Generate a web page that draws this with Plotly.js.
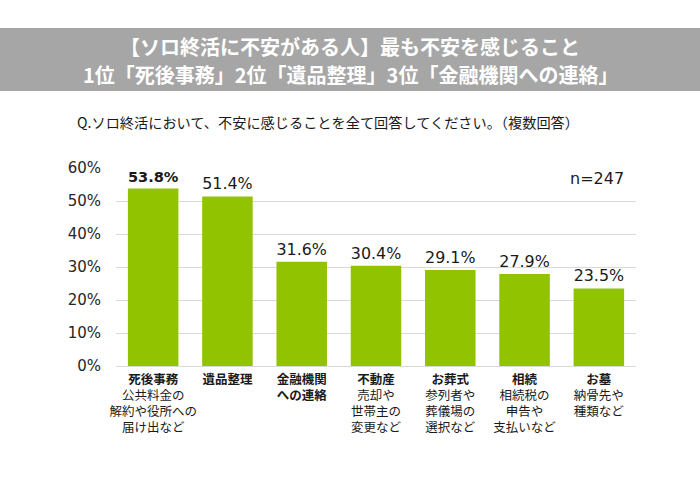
<!DOCTYPE html>
<html>
<head>
<meta charset="utf-8">
<script src="https://cdn.plot.ly/plotly-3.0.1.min.js"></script>
<style>html,body{margin:0;padding:0;background:#fff;}#chart{width:700px;height:495px;}</style>
</head>
<body>
<div id="chart"></div>
<script>
const categories = ['死後事務', '遺品整理', '金融機関への連絡', '不動産', 'お葬式', '相続', 'お墓'];
const tickLabels = [
  '<b>死後事務</b><br>公共料金の<br>解約や役所への<br>届け出など',
  '<b>遺品整理</b>',
  '<b>金融機関</b><br><b>への連絡</b>',
  '<b>不動産</b><br>売却や<br>世帯主の<br>変更など',
  '<b>お葬式</b><br>参列者や<br>葬儀場の<br>選択など',
  '<b>相続</b><br>相続税の<br>申告や<br>支払いなど',
  '<b>お墓</b><br>納骨先や<br>種類など'
];
const values = [53.8, 51.4, 31.6, 30.4, 29.1, 27.9, 23.5];
const yTicks = [0, 10, 20, 30, 40, 50, 60];
const titleLines = ['【ソロ終活に不安がある人】最も不安を感じること', '1位「死後事務」2位「遺品整理」3位「金融機関への連絡」'];
const questionText = 'Q.ソロ終活において、不安に感じることを全て回答してください。（複数回答）';
const sampleText = 'n=247';

const labelTexts = values.map((v, i) => i === 0 ? '<b>' + v.toFixed(1) + '%</b>' : v.toFixed(1) + '%');

const trace = {
  type: 'bar',
  x: categories,
  y: values,
  marker: {color: '#92c300'},
  text: labelTexts,
  textposition: 'outside',
  textfont: {family: 'DejaVu Sans, Noto Sans CJK JP', size: 16, color: '#1a1a1a'},
  cliponaxis: false,
  hoverinfo: 'none'
};

const layout = {
  width: 700, height: 495,
  margin: {l: 116, r: 64, t: 168, b: 129},
  paper_bgcolor: '#ffffff', plot_bgcolor: '#ffffff',
  bargap: 0.32,
  showlegend: false,
  font: {family: 'Noto Sans CJK JP, sans-serif', color: '#1a1a1a'},
  xaxis: {
    tickmode: 'array', tickvals: categories, ticktext: tickLabels,
    tickfont: {family: 'Noto Sans CJK JP', size: 12.5, color: '#1a1a1a'},
    showline: false, showgrid: false, ticks: '', ticklabelstandoff: 4, fixedrange: true
  },
  yaxis: {
    range: [0, 60], tickmode: 'array', tickvals: yTicks,
    ticktext: yTicks.map(v => v + '%'),
    tickfont: {family: 'DejaVu Sans', size: 15, color: '#262626'},
    showgrid: true, gridcolor: '#d9d9d9', gridwidth: 1,
    zeroline: true, zerolinecolor: '#d9d9d9', zerolinewidth: 1,
    showline: false, ticks: '', ticklabelstandoff: 14, fixedrange: true
  },
  shapes: [{
    type: 'rect', xref: 'paper', yref: 'paper',
    x0: -116/520, x1: 584/520,
    y0: (495 - 129 - 91) / 198, y1: (495 - 129 - 28) / 198,
    fillcolor: '#a6a6a6', line: {width: 0}, layer: 'below'
  }],
  annotations: [
    {xref: 'paper', yref: 'paper', x: (350 - 116)/520, y: (495 - 129 - 47)/198, yanchor: 'middle', xanchor: 'center',
     text: '<b>' + titleLines[0] + '</b>', showarrow: false, font: {family: 'Noto Sans CJK JP', size: 20, color: '#ffffff'}},
    {xref: 'paper', yref: 'paper', x: (350 - 116)/520, y: (495 - 129 - 74)/198, yanchor: 'middle', xanchor: 'center',
     text: '<b>' + titleLines[1] + '</b>', showarrow: false, font: {family: 'Noto Sans CJK JP', size: 20, color: '#ffffff'}},
    {xref: 'paper', yref: 'paper', x: (75 - 116)/520, y: (495 - 129 - 122)/198, yanchor: 'middle', xanchor: 'left',
     text: questionText, showarrow: false, font: {family: 'Noto Sans CJK JP', size: 14.2, color: '#1a1a1a'}},
    {xref: 'paper', yref: 'paper', x: (626 - 116)/520, y: (495 - 129 - 178)/198, yanchor: 'middle', xanchor: 'right',
     text: sampleText, showarrow: false, font: {family: 'DejaVu Sans', size: 16, color: '#1a1a1a'}}
  ]
};

Plotly.newPlot('chart', [trace], layout, {displayModeBar: false, staticPlot: true});
</script>
</body>
</html>
